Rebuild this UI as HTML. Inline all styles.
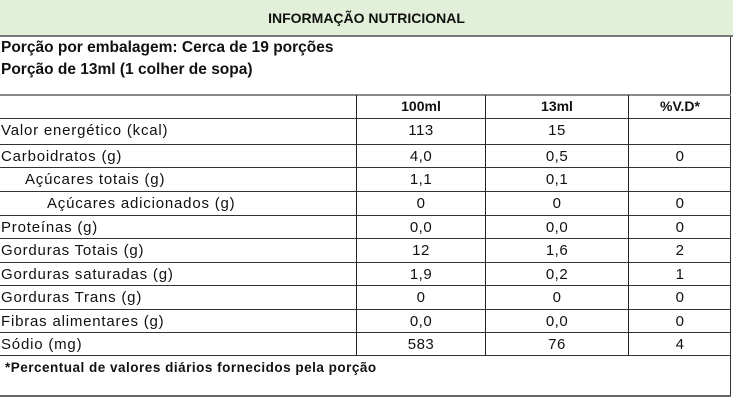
<!DOCTYPE html><html><head><style>
body{margin:0;width:734px;height:400px;background:#fff;position:relative;overflow:hidden;font-family:"Liberation Sans",sans-serif;color:#111}
.a{position:absolute}
.h{left:0;top:0;width:733px;height:35px;background:#e2efd9;border-bottom:2px solid #777}
.hl{left:0;width:731px;height:0;border-top:1.5px solid #333}
.vl{top:95px;height:260px;width:0;border-left:1.5px solid #222}
.t{font-size:15px;white-space:nowrap;letter-spacing:0.8px}
.c{text-align:center;font-size:15px;letter-spacing:0.5px}
</style></head><body>
<div class="a h"></div>
<div class="a" style="left:0;top:10px;width:733px;text-align:center;font-weight:bold;font-size:14px">INFORMAÇÃO NUTRICIONAL</div>
<div class="a t" style="left:1px;top:39px;font-weight:bold;font-size:15.5px;letter-spacing:0px">Porção por embalagem: Cerca de 19 porções</div>
<div class="a t" style="left:1px;top:61px;font-weight:bold;font-size:15.5px;letter-spacing:0px">Porção de 13ml (1 colher de sopa)</div>
<div class="a" style="left:730px;top:37px;height:360px;border-left:1.5px solid #333"></div>
<div class="a hl" style="top:94px;border-top:2px solid #888"></div>
<div class="a hl" style="top:118px"></div><div class="a hl" style="top:144px"></div>
<div class="a hl" style="top:167px"></div><div class="a hl" style="top:191px"></div>
<div class="a hl" style="top:215px"></div><div class="a hl" style="top:238px"></div>
<div class="a hl" style="top:262px"></div><div class="a hl" style="top:285px"></div>
<div class="a hl" style="top:309px"></div><div class="a hl" style="top:332px"></div>
<div class="a hl" style="top:355px"></div><div class="a hl" style="top:395px;border-top:2px solid #666"></div>
<div class="a vl" style="left:356px"></div><div class="a vl" style="left:485px"></div><div class="a vl" style="left:628px"></div>
<div class="a" style="left:357px;top:98px;width:128px;text-align:center;font-weight:bold;font-size:14px">100ml</div>
<div class="a" style="left:486px;top:98px;width:142px;text-align:center;font-weight:bold;font-size:14px">13ml</div>
<div class="a" style="left:629px;top:98px;width:102px;text-align:center;font-weight:bold;font-size:14px">%V.D*</div>
<div id="rows"></div>
<div class="a t" style="left:5px;top:360px;font-weight:bold;font-size:13.5px;letter-spacing:0.5px">*Percentual de valores diários fornecidos pela porção</div>
<script>
var r=[["Valor energético (kcal)",0,"113","15",""],["Carboidratos (g)",0,"4,0","0,5","0"],["Açúcares totais (g)",24,"1,1","0,1",""],["Açúcares adicionados (g)",46,"0","0","0"],["Proteínas (g)",0,"0,0","0,0","0"],["Gorduras Totais (g)",0,"12","1,6","2"],["Gorduras saturadas (g)",0,"1,9","0,2","1"],["Gorduras Trans (g)",0,"0","0","0"],["Fibras alimentares (g)",0,"0,0","0,0","0"],["Sódio (mg)",0,"583","76","4"]];
var y=[118,144,167,191,215,238,262,285,309,332],h="";
r.forEach(function(d,i){var t=y[i]+4;
h+='<div class="a t" style="left:'+(1+d[1])+'px;top:'+t+'px">'+d[0]+'</div>';
h+='<div class="a c" style="left:357px;width:128px;top:'+t+'px">'+d[2]+'</div>';
h+='<div class="a c" style="left:486px;width:142px;top:'+t+'px">'+d[3]+'</div>';
h+='<div class="a c" style="left:629px;width:102px;top:'+t+'px">'+d[4]+'</div>';});
document.getElementById("rows").innerHTML=h;
</script>
</body></html>
